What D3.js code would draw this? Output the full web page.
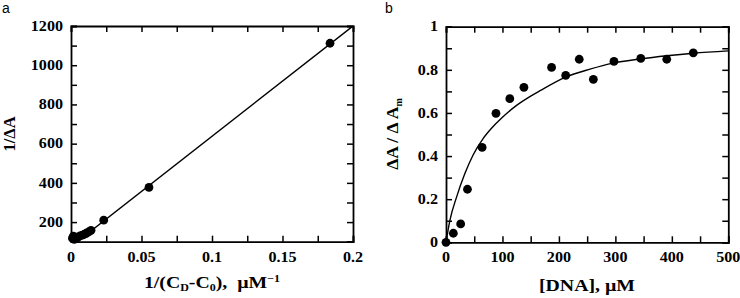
<!DOCTYPE html>
<html lang="en">
<head>
<meta charset="utf-8">
<title>Binding plots</title>
<script src="https://cdn.jsdelivr.net/npm/d3@7"></script>
<style>
  body { margin: 0; background: #fff; }
  svg { display: block; }
  .lbl { font-family: "Liberation Serif", "Times New Roman", serif; font-weight: bold; fill: #000; white-space: pre; }
  .panel { font-family: "Liberation Sans", Arial, sans-serif; font-size: 14px; fill: #000; }
</style>
</head>
<body>
<script>
// panel a: double reciprocal plot
const aX = [0.0010, 0.0017, 0.0023, 0.0030, 0.0040, 0.0050, 0.0064, 0.0080, 0.0095, 0.0108, 0.0125, 0.0142, 0.0232, 0.0553, 0.1837];
const aY = [118, 128, 112, 122, 118, 124, 129, 134, 138, 143, 150, 158, 210, 377, 1112];
const aFitX = [0, 0.2];
const aFitY = [75, 1200];
const aXTicks = [0, 0.025, 0.05, 0.075, 0.1, 0.125, 0.15, 0.175, 0.2];
const aXLabels = ["0", "", "0.05", "", "0.1", "", "0.15", "", "0.2"];
const aYTicks = [100, 200, 300, 400, 500, 600, 700, 800, 900, 1000, 1100, 1200];
const aYLabels = ["", "200", "", "400", "", "600", "", "800", "", "1000", "", "1200"];

// panel b: saturation curve
const bX = [0, 13, 26, 38, 64, 88.5, 113, 138, 187, 212, 236, 261, 297.5, 345, 391, 438];
const bY = [0, 0.042, 0.085, 0.246, 0.44, 0.598, 0.666, 0.719, 0.811, 0.774, 0.849, 0.756, 0.839, 0.853, 0.849, 0.879];
const bFitX = [0, 7, 19, 33.6, 48, 66, 81, 100, 125, 150, 166.5, 211, 255, 296, 343.6, 391, 438, 500];
const bFitY = [0, 0.103, 0.212, 0.32, 0.405, 0.482, 0.53, 0.58, 0.635, 0.678, 0.703, 0.765, 0.803, 0.831, 0.85, 0.865, 0.877, 0.888];
const bXTicks = [0, 50, 100, 150, 200, 250, 300, 350, 400, 450, 500];
const bXLabels = ["0", "", "100", "", "200", "", "300", "", "400", "", "500"];
const bYTicks = [0, 0.1, 0.2, 0.3, 0.4, 0.5, 0.6, 0.7, 0.8, 0.9, 1];
const bYLabels = ["0", "", "0.2", "", "0.4", "", "0.6", "", "0.8", "", "1"];

const w = 740, h = 298;
const sx = 1.15; // horizontal stretch of the original lettering

const svg = d3.select("body").append("svg").attr("width", w).attr("height", h);

function frame(x, y, xTicks, xLabels, yTicks, yLabels, id) {
  const g = svg.append("g");
  const [x0, x1] = x.range(), [y0, y1] = y.range();

  g.append("g").attr("transform", `translate(0,${y0})`)
    .call(d3.axisBottom(x).tickValues(xTicks).tickFormat("").tickSize(-6));
  g.append("g").attr("transform", `translate(${x0},0)`)
    .call(d3.axisLeft(y).tickValues(yTicks).tickFormat("").tickSize(-6));
  g.append("g").attr("transform", `translate(0,${y1})`)
    .call(d3.axisTop(x).tickValues(xTicks).tickFormat("").tickSize(-6));
  g.append("g").attr("transform", `translate(${x1},0)`)
    .call(d3.axisRight(y).tickValues(yTicks).tickFormat("").tickSize(-6));
  g.selectAll("path.domain").attr("stroke-width", 1.8);
  g.selectAll(".tick line").attr("stroke-width", 1.5);

  // tick labels
  g.append("g").selectAll("text")
    .data(xTicks.filter((d, i) => xLabels[i] !== ""))
    .join("text")
    .attr("class", "lbl")
    .style("font-size", "14px")
    .attr("text-anchor", "middle")
    .attr("transform", (d) => `translate(${x(d)},${y0 + 20}) scale(${sx},1)`)
    .text((d) => xLabels[xTicks.indexOf(d)]);
  g.append("g").selectAll("text")
    .data(yTicks.filter((d, i) => yLabels[i] !== ""))
    .join("text")
    .attr("class", "lbl")
    .style("font-size", "14px")
    .attr("text-anchor", "end")
    .attr("dy", "0.34em")
    .attr("transform", (d) => `translate(${x0 - 8},${y(d)}) scale(${sx},1)`)
    .text((d) => yLabels[yTicks.indexOf(d)]);

  svg.append("clipPath").attr("id", id)
    .append("rect").attr("x", x0).attr("y", y1).attr("width", x1 - x0).attr("height", y0 - y1);
}

// ---------- panel a ----------
const xa = d3.scaleLinear().domain([0, 0.2]).range([71, 353]);
const ya = d3.scaleLinear().domain([100, 1200]).range([241.7, 26]);

frame(xa, ya, aXTicks, aXLabels, aYTicks, aYLabels, "clipA");

svg.append("path")
  .datum(aFitX.map((d, i) => [d, aFitY[i]]))
  .attr("clip-path", "url(#clipA)")
  .attr("fill", "none").attr("stroke", "#000").attr("stroke-width", 1.4)
  .attr("d", d3.line().x((d) => xa(d[0])).y((d) => ya(d[1])));

svg.append("g").selectAll("circle")
  .data(aX.map((d, i) => [d, aY[i]]))
  .join("circle")
  .attr("cx", (d) => xa(d[0])).attr("cy", (d) => ya(d[1]))
  .attr("r", 4.4).attr("fill", "#000");

svg.append("text").attr("class", "panel").attr("x", 2).attr("y", 13).text("a");

// axis titles a
const tA = svg.append("text").attr("class", "lbl").style("font-size", "16.5px")
  .attr("text-anchor", "middle")
  .attr("transform", `translate(212,288) scale(1.2,1)`);
tA.append("tspan").text("1/(C");
tA.append("tspan").attr("dy", 3).style("font-size", "10px").text("D");
tA.append("tspan").attr("dy", -3).text("-C");
tA.append("tspan").attr("dy", 3).style("font-size", "10px").text("0");
tA.append("tspan").attr("dy", -3).text("),\u00a0\u00a0\u00b5M");
tA.append("tspan").attr("dy", -6).style("font-size", "10px").text("\u22121");

svg.append("text").attr("class", "lbl").style("font-size", "16.5px")
  .attr("text-anchor", "middle")
  .attr("transform", "translate(15,134) rotate(-90)")
  .text("1/\u0394A");

// ---------- panel b ----------
const xb = d3.scaleLinear().domain([0, 500]).range([446, 728.3]);
const yb = d3.scaleLinear().domain([0, 1]).range([242.3, 26.7]);

frame(xb, yb, bXTicks, bXLabels, bYTicks, bYLabels, "clipB");

svg.append("path")
  .datum(bFitX.map((d, i) => [d, bFitY[i]]))
  .attr("clip-path", "url(#clipB)")
  .attr("fill", "none").attr("stroke", "#000").attr("stroke-width", 1.4)
  .attr("d", d3.line().curve(d3.curveMonotoneX).x((d) => xb(d[0])).y((d) => yb(d[1])));

svg.append("g").selectAll("circle")
  .data(bX.map((d, i) => [d, bY[i]]))
  .join("circle")
  .attr("cx", (d) => xb(d[0])).attr("cy", (d) => yb(d[1]))
  .attr("r", 4.4).attr("fill", "#000");

svg.append("text").attr("class", "panel").attr("x", 385).attr("y", 13).text("b");

svg.append("text").attr("class", "lbl").style("font-size", "16.5px")
  .attr("text-anchor", "middle")
  .attr("transform", "translate(587,291) scale(1.2,1)")
  .text("[DNA], \u00b5M");

const tB = svg.append("text").attr("class", "lbl").style("font-size", "17.5px")
  .attr("text-anchor", "middle")
  .attr("transform", "translate(398,134) rotate(-90)");
tB.append("tspan").text("\u0394A / \u0394 A");
tB.append("tspan").attr("dy", 4).style("font-size", "10px").text("m");
</script>
</body>
</html>
